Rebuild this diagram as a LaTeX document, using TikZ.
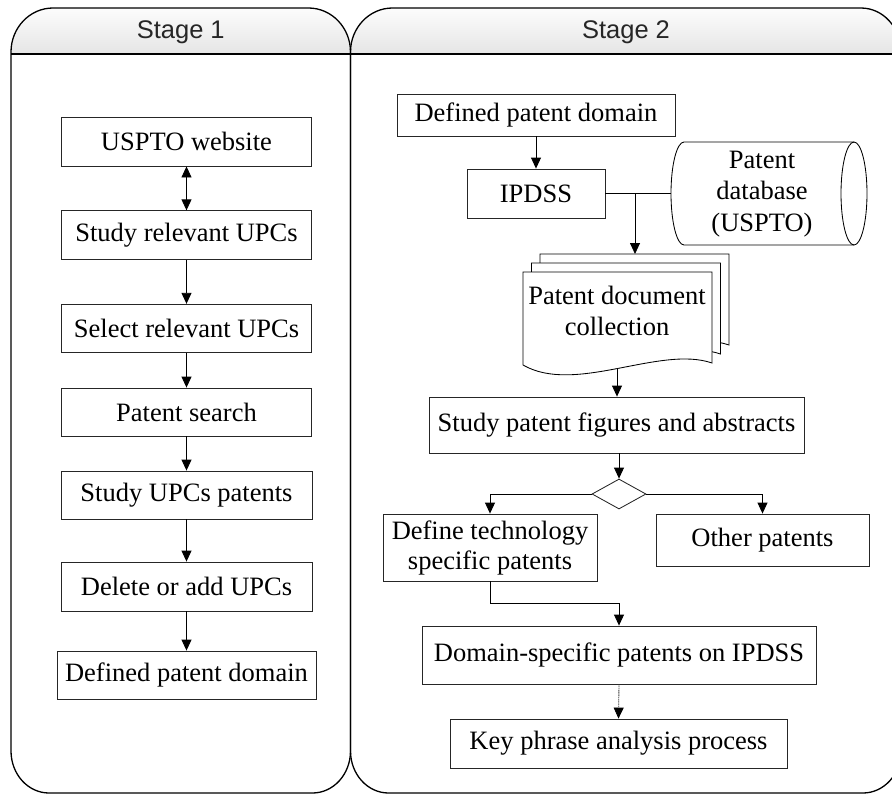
\documentclass[tikz,border=0pt]{standalone}
\usepackage{fontspec}
\setmainfont{Liberation Serif}
\newfontfamily\headfont{Liberation Sans}
\usetikzlibrary{arrows.meta,shapes.geometric}

\begin{document}
\begin{tikzpicture}[x=1pt,y=-1pt,
  lane/.style={draw=black,line width=1.3pt},
  headfill/.style={top color=gray!2,bottom color=gray!20,draw=none},
  stagelabel/.style={font=\headfont\fontsize{25.5}{28}\selectfont,text=black!85},
  stepbox/.style={draw=black!85,line width=0.85pt,inner sep=0pt,align=center,
    font=\fontsize{26.5}{30}\selectfont},
  plain/.style={inner sep=0pt,align=center,font=\fontsize{26.5}{31.5}\selectfont},
  arr/.style={line width=0.85pt,-{Triangle[width=10pt,length=11pt,color=black]}},
  link/.style={line width=0.85pt},
]
\useasboundingbox (0,0) rectangle (892,793);

% ---------- swimlanes ----------
% header shading
\path[headfill] (11,54) -- (11,52) arc[start angle=180,end angle=270,x radius=42,y radius=44]
  -- (308.5,8) arc[start angle=270,end angle=360,x radius=42,y radius=44] -- (350.5,54) -- cycle;
\path[headfill] (350.5,54) -- (350.5,52) arc[start angle=180,end angle=270,x radius=42,y radius=44]
  -- (861,8) arc[start angle=270,end angle=360,x radius=40,y radius=44] -- (901,54) -- cycle;

% lane outlines
\draw[lane] (11,54) -- (11,52) arc[start angle=180,end angle=270,x radius=42,y radius=44]
  -- (308.5,8) arc[start angle=270,end angle=360,x radius=42,y radius=44]
  -- (350.5,751) arc[start angle=0,end angle=90,x radius=38,y radius=42]
  -- (49,793) arc[start angle=90,end angle=180,x radius=38,y radius=42] -- cycle;
\draw[lane] (350.5,54) -- (350.5,52) arc[start angle=180,end angle=270,x radius=42,y radius=44]
  -- (861,8) arc[start angle=270,end angle=360,x radius=40,y radius=44]
  -- (901,751) arc[start angle=0,end angle=90,x radius=38,y radius=42]
  -- (388.5,793) arc[start angle=90,end angle=180,x radius=38,y radius=42] -- cycle;
\draw[lane] (11,54) -- (901,54);

\node[stagelabel] (stage1) at (180.75,32) {Stage 1};
\node[stagelabel] (stage2) at (626,32) {Stage 2};

% ---------- Stage 1 ----------
\node[stepbox,minimum width=250pt,minimum height=49pt] (uspto) at (186.5,141.5) {USPTO website};
\node[stepbox,minimum width=250pt,minimum height=48.5pt] (studyupc) at (186.5,235) {Study relevant UPCs};
\node[stepbox,minimum width=250pt,minimum height=48.5pt] (selupc) at (186.5,328.5) {Select relevant UPCs};
\node[stepbox,minimum width=250pt,minimum height=48pt] (search) at (186.5,412) {Patent search};
\node[stepbox,minimum width=251pt,minimum height=48pt] (studypat) at (186.5,495) {Study UPCs patents};
\node[stepbox,minimum width=251pt,minimum height=49pt] (deladd) at (186.5,586.5) {Delete or add UPCs};
\node[stepbox,minimum width=259pt,minimum height=48pt] (domainL) at (186.5,675) {Defined patent domain};

\draw[line width=0.85pt,{Triangle[width=10pt,length=11pt]}-{Triangle[width=10pt,length=11pt]}] (uspto.south) -- (studyupc.north);
\draw[arr] (studyupc.south) -- (selupc.north);
\draw[arr] (selupc.south) -- (search.north);
\draw[arr] (search.south) -- (studypat.north);
\draw[arr] (studypat.south) -- (deladd.north);
\draw[arr] (deladd.south) -- (domainL.north);

% ---------- Stage 2 ----------
\node[stepbox,minimum width=278pt,minimum height=42pt] (domainR) at (536,115) {Defined patent domain};
\node[stepbox,minimum width=138pt,minimum height=49pt] (ipdss) at (536,193.5) {IPDSS};

% patent database (horizontal cylinder)
\draw[line width=0.85pt,fill=white] (684,142) -- (854,142)
  arc[start angle=-90,end angle=90,x radius=13,y radius=51.5]
  -- (684,245) arc[start angle=90,end angle=270,x radius=13,y radius=51.5] -- cycle;
\draw[line width=0.85pt] (854,142) arc[start angle=270,end angle=90,x radius=13,y radius=51.5];
\node[plain] (db) at (762,194) {Patent\\database\\(USPTO)};
\coordinate (dbW) at (671,193.5);

% stacked patent documents
\foreach \dx/\dy in {17/-18, 8.5/-9, 0/0}{
  \draw[line width=0.85pt,fill=white,shift={(\dx,\dy)}] (523,272) -- (712,272) -- (712,363)
    .. controls (660,345) and (575,395) .. (523,365) -- cycle;
}
\node[plain] (docs) at (617,311) {Patent document\\collection};
\coordinate (docsTop) at (635,254);
\coordinate (docsBot) at (617,369);

\node[stepbox,minimum width=375pt,minimum height=56pt] (figs) at (616.5,425) {Study patent figures and abstracts};
\node[draw=black!85,line width=0.85pt,diamond,inner sep=0pt,minimum width=54pt,minimum height=30pt] (dec) at (619,494) {};
\node[stepbox,minimum width=214pt,minimum height=67pt] (tech) at (490,547.5) {Define technology\\specific patents};
\node[stepbox,minimum width=213pt,minimum height=52pt] (other) at (762.5,540) {Other patents};
\node[stepbox,minimum width=394pt,minimum height=58pt] (dompat) at (619,655) {Domain-specific patents on IPDSS};
\node[stepbox,minimum width=337pt,minimum height=49pt] (keyph) at (618.5,743.5) {Key phrase analysis process};

\draw[arr] (domainR.south) -- (ipdss.north);
\draw[link] (ipdss.east) -- (dbW);
\draw[arr] (ipdss.east -| docsTop) -- (docsTop);
\draw[arr] (docsBot) -- (docsBot |- figs.north);
\draw[arr] (figs.south -| dec.north) -- (dec.north);
\draw[arr] (dec.west) -| (tech.north);
\draw[arr] (dec.east) -| (other.north);
\draw[arr] (tech.south) -- ++(0,22) -| (dompat.north);
\draw[arr,draw=black!75,dash pattern=on 1.2pt off 0.6pt] (dompat.south) -- (keyph.north);

\end{tikzpicture}
\end{document}
